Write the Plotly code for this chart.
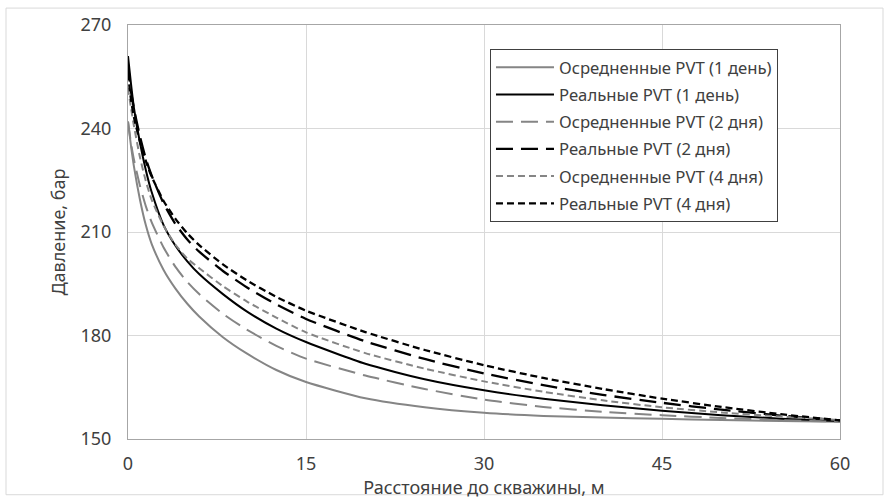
import plotly.graph_objects as go

x = [0, 0.25, 0.5, 1, 1.5, 2, 3, 4, 5, 6, 8, 10, 12.5, 15, 20, 25, 30, 35, 40, 45, 50, 55, 60]

avg_1d = [242, 235, 229, 219.5, 212, 206.5, 199, 193.6, 189.2, 185.5, 179.5, 174.8, 170, 166.5, 161.8, 159.2, 157.6, 156.7, 156.2, 155.85, 155.5, 155.25, 155]
real_1d = [261, 253, 246, 236, 228, 221.5, 212, 206, 201.5, 197.8, 192, 187, 182, 178.1, 171.8, 167.3, 164.1, 161.7, 159.8, 158.2, 156.9, 155.9, 155.2]
avg_2d = [242, 235.8, 231, 223.5, 217.5, 212.8, 205.5, 199.9, 195.5, 192, 186.3, 181.7, 177, 173.3, 168.4, 164.5, 161.4, 159.3, 157.9, 156.9, 156.1, 155.5, 155]
real_2d = [258.5, 250.8, 245.8, 237.8, 231.3, 226.3, 218.3, 212.3, 207.8, 204.3, 198.7, 194, 189, 184.8, 178.3, 173.2, 169, 165.6, 162.8, 160.5, 158.5, 156.8, 155.4]
avg_4d = [251.8, 246, 240.8, 231.8, 224.8, 219.3, 211.8, 206.3, 202.3, 199.5, 194.3, 189.9, 185.2, 180.9, 174.9, 170.4, 166.7, 163.7, 161.2, 159.2, 157.7, 156.5, 155.5]
real_4d = [256, 248.5, 243.3, 236.3, 230.6, 226, 219, 213.8, 209.6, 206.2, 200.6, 196, 191.2, 187.2, 181, 175.8, 171.4, 167.7, 164.5, 161.7, 159.3, 157.2, 155.4]

names = [
    "Осредненные PVT (1 день)",
    "Реальные PVT (1 день)",
    "Осредненные PVT (2 дня)",
    "Реальные PVT (2 дня)",
    "Осредненные PVT (4 дня)",
    "Реальные PVT (4 дня)",
]
series = [avg_1d, real_1d, avg_2d, real_2d, avg_4d, real_4d]
colors = ["#858585", "#000000", "#858585", "#000000", "#858585", "#000000"]
dashes = ["solid", "solid", "17px,8px", "17px,8px", "7px,4px", "7px,4px"]
widths = [2, 2, 2, 2.3, 2, 2.3]

FONT = "Noto Sans"
TXT = "#404040"

fig = go.Figure()
for i, (n, s, c, d, w) in enumerate(zip(names, series, colors, dashes, widths)):
    fig.add_trace(go.Scatter(
        x=x, y=s, name=n, mode="lines",
        line=dict(color=c, width=w, dash=d, shape="spline", smoothing=0.6),
        legendgroup=str(i),
    ))

fig.update_layout(
    width=889, height=501,
    margin=dict(l=128, r=49, t=23, b=62),
    paper_bgcolor="white", plot_bgcolor="white",
    font=dict(family=FONT, size=18, color=TXT),
    showlegend=True,
    legend=dict(
        x=0.5084, y=0.9423, xanchor="left", yanchor="top",
        bgcolor="white", bordercolor="#404040", borderwidth=1,
        font=dict(family=FONT, size=16.7, color=TXT),
        tracegroupgap=2.5, itemwidth=58,
    ),
    xaxis=dict(
        range=[0, 60], tick0=0, dtick=15, showgrid=True,
        gridcolor="#d9d9d9", gridwidth=1, zeroline=False,
        showline=True, linecolor="#a6a6a6", linewidth=1, mirror=True,
        ticks="outside", ticklen=8, tickcolor="rgba(0,0,0,0)",
        tickfont=dict(family=FONT, size=18, color=TXT),
        title=dict(text="Расстояние до скважины, м", standoff=2,
                   font=dict(family=FONT, size=18, color=TXT)),
    ),
    yaxis=dict(
        range=[150, 270], tick0=150, dtick=30, showgrid=True,
        gridcolor="#d9d9d9", gridwidth=1, zeroline=False,
        showline=True, linecolor="#a6a6a6", linewidth=1, mirror=True,
        ticks="outside", ticklen=12, tickcolor="rgba(0,0,0,0)",
        tickfont=dict(family=FONT, size=18, color=TXT),
        title=dict(text="Давление, бар", standoff=10,
                   font=dict(family=FONT, size=18, color=TXT)),
    ),
    shapes=[dict(
        type="rect", xref="paper", yref="paper",
        x0=(6 - 128) / 712, x1=(883 - 128) / 712,
        y0=(439 - 495) / 416, y1=(439 - 6) / 416,
        line=dict(color="#d9d9d9", width=1), fillcolor="rgba(0,0,0,0)",
        layer="below",
    )],
)

fig.write_html("out.html")
